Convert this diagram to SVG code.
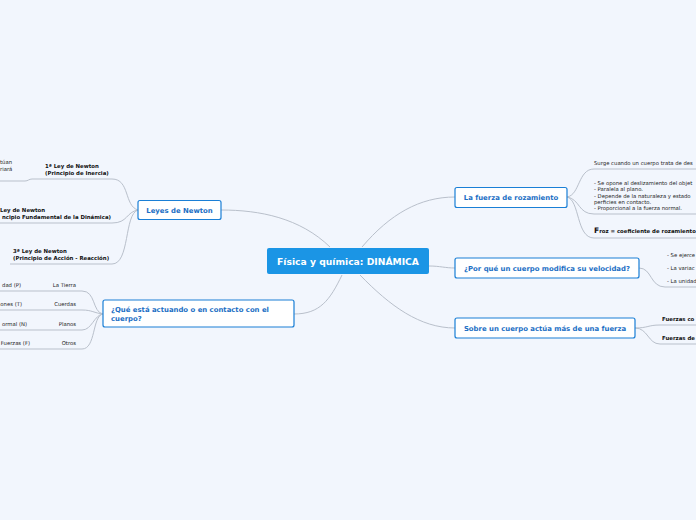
<svg xmlns="http://www.w3.org/2000/svg" width="696" height="520" viewBox="0 0 696 520">
<style>
.bg{fill:#f2f6fd}
.c{fill:none;stroke:#b9c0cb;stroke-width:1}
.box{fill:#ffffff;stroke:#1a7fd6;stroke-width:1.2}
.t{font-family:"DejaVu Sans",Verdana,sans-serif;font-weight:bold;font-size:6.9px;fill:#1a6ec4}
.s{font-family:"DejaVu Sans",Verdana,sans-serif;font-size:5.3px;fill:#222}
.sb{font-family:"DejaVu Sans",Verdana,sans-serif;font-weight:bold;font-size:5.4px;fill:#111}
.ct{font-family:"DejaVu Sans",Verdana,sans-serif;font-weight:bold;font-size:9.2px;fill:#ffffff}
</style>
<rect class="bg" x="0" y="0" width="696" height="520"/>
<g id="connectors">
<path class="c" d="M330,247 C300,218 260,210 221,210"/>
<path class="c" d="M342,275 C330,300 320,314 294,314"/>
<path class="c" d="M362,247 C390,214 420,197 455,197"/>
<path class="c" d="M429,266 C440,266 445,268 455,268"/>
<path class="c" d="M360,275 C390,306 420,328 455,328"/>
<path class="c" d="M138,210 C124,206 130,179 112,179 L32,179 C29,179 28,181 25,181 L0,181"/>
<path class="c" d="M138,210 C126,212 128,223 112,223 L0,223"/>
<path class="c" d="M138,210 C124,214 130,264 112,264 L10,264"/>
<path class="c" d="M103,314 C92,312 96,291 82,291 L0,291"/>
<path class="c" d="M103,314 C94,313 92,310 82,310 L0,310"/>
<path class="c" d="M103,314 C94,315 92,330 82,330 L0,330"/>
<path class="c" d="M103,314 C92,316 96,349 82,349 L0,349"/>
<path class="c" d="M567,197 C580,195 578,169 594,169 L696,169"/>
<path class="c" d="M567,197 C580,199 578,214 594,214 L696,214"/>
<path class="c" d="M567,197 C580,200 576,238 594,238 L696,238"/>
<path class="c" d="M639,268 C652,268 650,287 665,287 L696,287"/>
<path class="c" d="M635,328 C648,328 648,325 660,325 L696,325"/>
<path class="c" d="M635,328 C648,328 648,344 660,344 L696,344"/>
</g>
<g id="center">
<rect x="267" y="248" width="162" height="26" rx="2" fill="#1b95e5"/>
<text class="ct" x="348" y="264.5" text-anchor="middle">Física y química: DINÁMICA</text>
</g>
<g id="leyes">
<rect class="box" x="138" y="200.5" width="83" height="19" rx="2"/>
<text class="t" x="179.5" y="212.5" text-anchor="middle">Leyes de Newton</text>
</g>
<g id="ley1-child">
<text class="s" x="0" y="164">túan</text>
<text class="s" x="0" y="171">riará</text>
</g>
<g id="ley1">
<text class="sb" x="45" y="168">1ª Ley de Newton</text>
<text class="sb" x="45" y="175">(Principio de Inercia)</text>
</g>
<g id="ley2">
<text class="sb" x="0" y="212">Ley de Newton</text>
<text class="sb" x="111" y="219" text-anchor="end">ncipio Fundamental de la Dinámica)</text>
</g>
<g id="ley3">
<text class="sb" x="13" y="253">3ª Ley de Newton</text>
<text class="sb" x="13" y="260">(Principio de Acción - Reacción)</text>
</g>
<g id="contacto">
<rect class="box" x="103" y="300" width="191" height="27" rx="2"/>
<text class="t" x="111" y="312">¿Qué está actuando o en contacto con el</text>
<text class="t" x="111" y="321">cuerpo?</text>
</g>
<g id="tierra">
<text class="s" x="76" y="287" text-anchor="end">La Tierra</text>
<text class="s" x="21" y="287" text-anchor="end">dad (P)</text>
</g>
<g id="cuerdas">
<text class="s" x="76" y="306" text-anchor="end">Cuerdas</text>
<text class="s" x="22" y="306" text-anchor="end">ones (T)</text>
</g>
<g id="planos">
<text class="s" x="76" y="326" text-anchor="end">Planos</text>
<text class="s" x="27" y="326" text-anchor="end">ormal (N)</text>
</g>
<g id="otros">
<text class="s" x="76" y="345" text-anchor="end">Otros</text>
<text class="s" x="30" y="345" text-anchor="end">Fuerzas (F)</text>
</g>
<g id="rozamiento">
<rect class="box" x="455" y="187.5" width="112" height="20" rx="2"/>
<text class="t" x="511" y="200" text-anchor="middle">La fuerza de rozamiento</text>
</g>
<g id="surge">
<text class="s" x="594" y="164.5">Surge cuando un cuerpo trata de des</text>
</g>
<g id="opone">
<text class="s" x="594" y="185">- Se opone al deslizamiento del objet</text>
<text class="s" x="594" y="191">- Paralela al plano.</text>
<text class="s" x="594" y="197.5">- Depende de la naturaleza y estado</text>
<text class="s" x="594" y="203.5">perficies en contacto.</text>
<text class="s" x="594" y="210">- Proporcional a la fuerza normal.</text>
</g>
<g id="froz">
<text class="sb" x="594" y="233"><tspan font-size="7.5">F</tspan>roz = coeficiente de rozamiento</text>
</g>
<g id="velocidad">
<rect class="box" x="455" y="258" width="184" height="20" rx="2"/>
<text class="t" x="547" y="270.5" text-anchor="middle">¿Por qué un cuerpo modifica su velocidad?</text>
</g>
<g id="velocidad-child">
<text class="s" x="667" y="257">- Se ejerce</text>
<text class="s" x="667" y="270">- La variac</text>
<text class="s" x="667" y="283">- La unidad</text>
</g>
<g id="sobre">
<rect class="box" x="455" y="318" width="180" height="20" rx="2"/>
<text class="t" x="545" y="330.5" text-anchor="middle">Sobre un cuerpo actúa más de una fuerza</text>
</g>
<g id="fuerzas-co">
<text class="sb" x="662" y="321">Fuerzas co</text>
</g>
<g id="fuerzas-de">
<text class="sb" x="662" y="340">Fuerzas de</text>
</g>
</svg>
